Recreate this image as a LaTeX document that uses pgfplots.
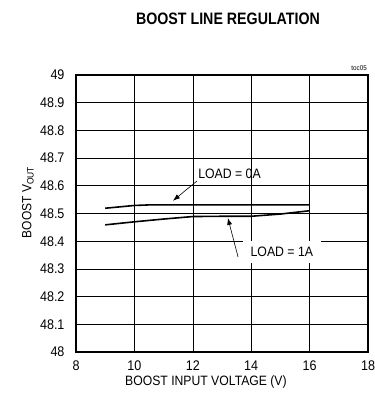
\documentclass[border=0pt]{standalone}
\usepackage{pgfplots}
\pgfplotsset{compat=1.18}
\usepackage{fontspec}
\setmainfont{Liberation Sans}[FakeStretch=0.9]
\newfontfamily\titlefont{Liberation Sans}[FakeStretch=0.86]
\usetikzlibrary{arrows.meta}
\begin{document}
\begin{tikzpicture}[x=1bp,y=1bp]
\useasboundingbox (0,0) rectangle (375,397);
\begin{axis}[
  at={(76bp,45bp)}, anchor=south west,
  scale only axis, width=292bp, height=277bp,
  xmin=8, xmax=18, ymin=48, ymax=49,
  xtick={8,10,12,14,16,18},
  ytick={48,48.1,48.2,48.3,48.4,48.5,48.6,48.7,48.8,48.9,49},
  grid=major, grid style={black, line width=0.6pt},
  axis line style={line width=1.8pt},
  tick style={draw=none},
  /pgf/number format/assume math mode=true,
  yticklabel style={/pgf/number format/fixed, /pgf/number format/precision=1, font=\fontsize{14}{16}\selectfont, xshift=-8bp},
  xticklabel style={font=\fontsize{14}{16}\selectfont, yshift=-5bp},
  xlabel={BOOST INPUT VOLTAGE (V)},
  xlabel style={font=\fontsize{13.6}{15}\selectfont, at={(axis description cs:0.445,0)}, anchor=center, yshift=-30bp},
  ylabel={BOOST V\textsubscript{OUT}},
  ylabel style={font=\fontsize{13.4}{15}\selectfont, at={(axis description cs:-0.165,0.54)}, anchor=center},
  clip=false,
]
\addplot[black, line width=1.6pt] coordinates {(9,48.519) (10,48.529) (10.5,48.531) (12,48.531) (14,48.531) (16,48.531)};
\addplot[black, line width=1.6pt] coordinates {(9,48.459) (10,48.47) (11,48.48) (12,48.489) (13,48.49) (14,48.490) (15,48.498) (16,48.51)};
\draw[-{Latex[length=7bp,width=5bp]}, line width=0.6pt] (axis cs:12.14,48.617) -- (axis cs:11.32,48.546);
\node[anchor=west, inner sep=0pt, font=\fontsize{13.7}{15}\selectfont] at (axis cs:12.18,48.643) {LOAD = 0A};
\node[anchor=west, fill=white, inner xsep=8bp, inner ysep=6bp, font=\fontsize{13.7}{15}\selectfont] at (axis cs:13.7,48.361) {LOAD = 1A};
\draw[-{Latex[length=7bp,width=5bp]}, line width=0.6pt] (axis cs:13.55,48.343) -- (axis cs:13.2,48.484);
\end{axis}
\node[font=\titlefont\bfseries\fontsize{16.6}{19}\selectfont] at (228,378) {BOOST LINE REGULATION};
\node[anchor=east, font=\fontsize{7}{8}\selectfont, inner sep=0pt] at (367,329) {toc05};
\end{tikzpicture}
\end{document}
